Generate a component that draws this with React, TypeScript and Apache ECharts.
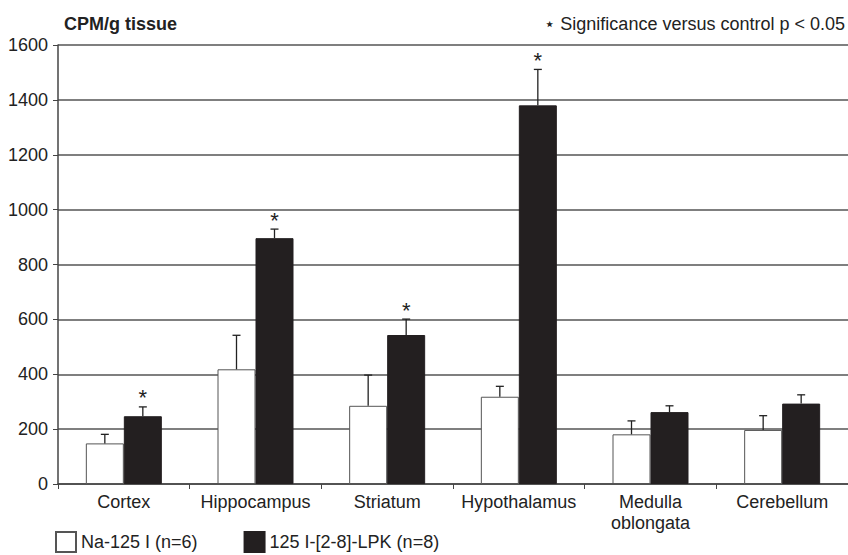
import React, { useEffect, useRef } from "react";
import * as echarts from "echarts";

const categories = ["Cortex", "Hippocampus", "Striatum", "Hypothalamus", "Medulla\noblongata", "Cerebellum"];
const controlMeans = [148, 418, 285, 318, 181, 197];
const controlErr = [33, 124, 112, 38, 49, 52];
const lpkMeans = [247, 896, 543, 1380, 262, 293];
const lpkErr = [34, 33, 58, 131, 23, 32];
const lpkSignificant = [true, true, true, true, false, false];
const yTicks = { min: 0, max: 1600, interval: 200 };
const seriesNames = ["Na-125 I (n=6)", "125 I-[2-8]-LPK (n=8)"];

const FONT = "'Liberation Sans', Arial, sans-serif";
const BAR_W = 38;

export default function App() {
  const ref = useRef<HTMLDivElement>(null);
  useEffect(() => {
    if (!ref.current) return;
    const chart = echarts.init(ref.current, undefined, { renderer: "svg" });
    const errData: any[] = [];
    categories.forEach((_, i) => {
      errData.push([i, controlMeans[i], controlMeans[i] + controlErr[i], -1, 0]);
      errData.push([i, lpkMeans[i], lpkMeans[i] + lpkErr[i], 1, lpkSignificant[i] ? 1 : 0]);
    });
    chart.setOption({
      animation: false,
      textStyle: { fontFamily: FONT },
      grid: { left: 58, right: -4, top: 45, bottom: 71, containLabel: false },
      legend: {
        left: 55,
        top: 531,
        padding: 0,
        icon: "rect",
        itemWidth: 20,
        itemHeight: 20,
        itemGap: 46,
        data: seriesNames,
        textStyle: { fontSize: 18, color: "#222", fontFamily: FONT },
      },
      xAxis: {
        type: "category",
        data: categories,
        axisLine: { lineStyle: { color: "#444", width: 1.5 } },
        axisTick: { show: true, length: 5, lineStyle: { color: "#444" } },
        axisLabel: { interval: 0, fontSize: 18, color: "#222", margin: 7, lineHeight: 21, fontFamily: FONT },
      },
      yAxis: {
        type: "value",
        min: yTicks.min,
        max: yTicks.max,
        interval: yTicks.interval,
        axisLine: { show: true, lineStyle: { color: "#444", width: 1.5 } },
        axisTick: { show: true, length: 5, lineStyle: { color: "#444" } },
        axisLabel: { fontSize: 18, color: "#222", margin: 10, fontFamily: FONT, formatter: (v: number) => String(v) },
        splitLine: { lineStyle: { color: "#555", width: 1.5 } },
      },
      series: [
        {
          name: seriesNames[0],
          type: "bar",
          data: controlMeans,
          barWidth: BAR_W,
          barGap: "0%",
          itemStyle: { color: "#ffffff", borderColor: "#555", borderWidth: 1 },
        },
        {
          name: seriesNames[1],
          type: "bar",
          data: lpkMeans,
          barWidth: BAR_W,
          barGap: "0%",
          itemStyle: { color: "#231f20", borderColor: "#231f20", borderWidth: 1 },
        },
        {
          type: "custom",
          data: errData,
          z: 10,
          renderItem: (params: any, api: any) => {
            const idx = api.value(0);
            const base = api.coord([idx, api.value(1)]);
            const top = api.coord([idx, api.value(2)]);
            const x = base[0] + api.value(3) * (BAR_W / 2);
            const children: any[] = [
              { type: "line", shape: { x1: x, y1: base[1], x2: x, y2: top[1] }, style: { stroke: "#222", lineWidth: 1.3 } },
              { type: "line", shape: { x1: x - 4, y1: top[1], x2: x + 4, y2: top[1] }, style: { stroke: "#222", lineWidth: 1.3 } },
            ];
            if (api.value(4) === 1) {
              children.push({
                type: "text",
                x: x,
                y: top[1] + 2,
                style: { text: "*", fontSize: 22, fill: "#222", align: "center", verticalAlign: "bottom", fontFamily: FONT },
              });
            }
            return { type: "group", children };
          },
        },
      ],
      graphic: [
        {
          type: "text",
          left: 64,
          top: 15,
          style: { text: "CPM/g tissue", fontSize: 18, fontWeight: "bold", fill: "#222", fontFamily: FONT },
        },
        {
          type: "text",
          right: 3,
          top: 15,
          style: { text: "\u22C6 Significance versus control p < 0.05", fontSize: 18, fill: "#222", fontFamily: FONT },
        },
      ],
    });
    return () => chart.dispose();
  }, []);
  return <div ref={ref} style={{ position: "fixed", left: 0, top: 0, width: 848, height: 555, background: "#fff" }} />;
}
